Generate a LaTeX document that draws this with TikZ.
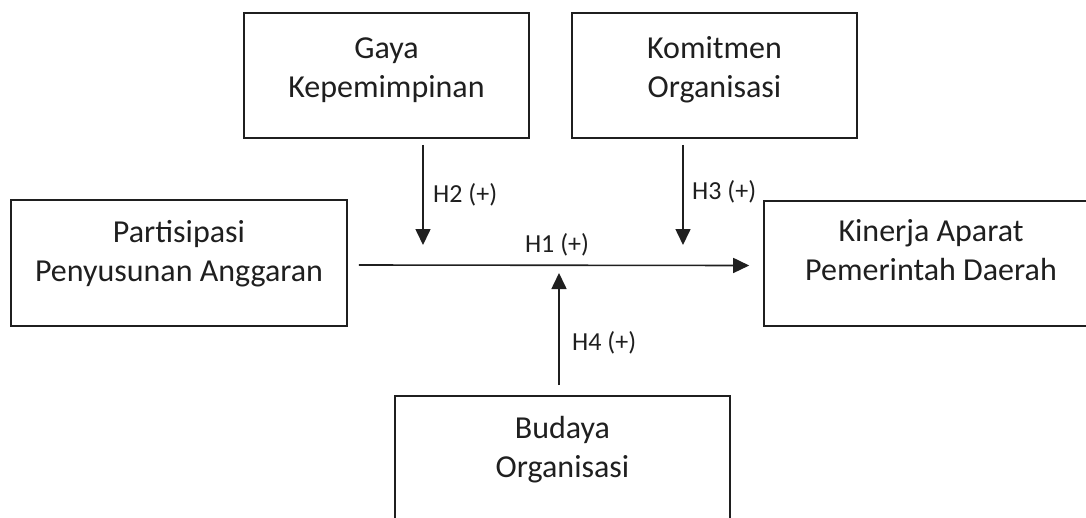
\documentclass[tikz,border=0pt]{standalone}
\usepackage{fontspec}
\setmainfont{Carlito}
\usetikzlibrary{arrows.meta}
\tikzset{
  box/.style={draw=black!88, line width=1.6pt, inner sep=0pt},
  txt/.style={inner sep=0pt, align=center, font=\fontsize{32}{39}\selectfont, text=black!88},
  lab/.style={inner sep=0pt, font=\fontsize{26}{30}\selectfont, text=black!88},
  arr/.style={draw=black!88, line width=1.6pt, -{Triangle[length=16pt,width=15pt]}}
}
\begin{document}
\begin{tikzpicture}[x=1pt,y=-1pt]
\useasboundingbox (0,0) rectangle (1086,517);
\clip (0,0) rectangle (1086,517);
% boxes
\node[box, minimum width=285pt, minimum height=125pt] (gaya) at (386.5,75.5) {};
\node[box, minimum width=285pt, minimum height=125pt] (kom) at (714.5,75.5) {};
\node[box, minimum width=336pt, minimum height=126pt] (part) at (179,263) {};
\node[box, minimum width=334pt, minimum height=125pt] (kin) at (931,263.5) {};
\node[box, minimum width=335pt, minimum height=144pt] (bud) at (562.5,468) {};
% texts (base anchor = last line)
\node[txt, anchor=base] (gayat) at (386.5,97) {Gaya\\Kepemimpinan};
\node[txt, anchor=base] (komt) at (714.5,97) {Komitmen\\Organisasi};
\node[txt, anchor=base] (partt) at (179,281) {Partisipasi\\Penyusunan Anggaran};
\node[txt, anchor=base] (kint) at (931,280) {Kinerja Aparat\\Pemerintah Daerah};
\node[txt, anchor=base] (budt) at (562.5,477) {Budaya\\Organisasi};
% tips
\coordinate (h2tip) at (423,245);
\coordinate (h3tip) at (683,245);
\coordinate (h4tip) at (559,273);
% connectors
\draw[arr] ([xshift=11pt,yshift=-2pt]part.east) -- ([xshift=-14pt,yshift=-2pt]kin.west);
\draw[arr] (gaya.south -| h2tip) ++(0,6) -- (h2tip);
\draw[arr] (kom.south -| h3tip) ++(0,6) -- (h3tip);
\draw[arr] (bud.north -| h4tip) ++(0,-10) -- (h4tip);
% labels
\node[lab, anchor=base] (h1) at (557,252) {H1 (+)};
\node[lab, anchor=base west] (h2) at (433,202) {H2 (+)};
\node[lab, anchor=base west] (h3) at (692,199) {H3 (+)};
\node[lab, anchor=base west] (h4) at (572,350) {H4 (+)};
\end{tikzpicture}
\end{document}
